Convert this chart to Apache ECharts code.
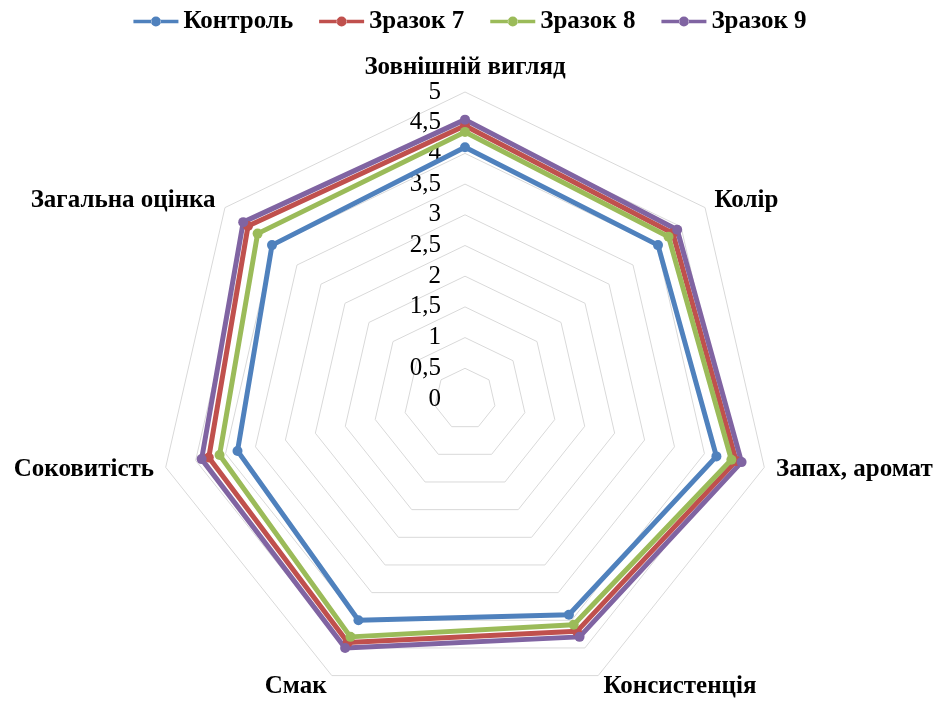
<!DOCTYPE html>
<html>
<head>
<meta charset="utf-8">
<script src="https://cdn.jsdelivr.net/npm/echarts@6/dist/echarts.min.js"></script>
<style>
  html, body { margin: 0; padding: 0; background: #fff; }
  #main { width: 940px; height: 702px; }
</style>
</head>
<body>
<div id="main"></div>
<script>
// показники (осі радара), за годинниковою стрілкою від верху
var indicators = ['Зовнішній вигляд', 'Колір', 'Запах, аромат', 'Консистенція', 'Смак', 'Соковитість', 'Загальна оцінка'];
var seriesNames = ['Контроль', 'Зразок 7', 'Зразок 8', 'Зразок 9'];

// оцінки
var control = [4.1, 4.02, 4.2, 3.9, 4.0, 3.8, 4.02];
var sample7 = [4.45, 4.33, 4.53, 4.2, 4.4, 4.28, 4.52];
var sample8 = [4.35, 4.24, 4.45, 4.08, 4.3, 4.1, 4.32];
var sample9 = [4.55, 4.42, 4.62, 4.3, 4.5, 4.4, 4.62];

var colors = ['#4F81BD', '#C0504D', '#9BBB59', '#8064A2'];
var allValues = [control, sample7, sample8, sample9];

// echarts кладе осі проти годинникової стрілки, тож перший лишаємо, решту перевертаємо
function clockwise(arr) {
  return [arr[0]].concat(arr.slice(1).reverse());
}

// значок легенди: лінія з маркером
var legendIcon = 'path://M0,3.3 H18 V6.7 H0 Z M27,3.3 H45 V6.7 H27 Z M17.5,5 A5,5 0 1,0 27.5,5 A5,5 0 1,0 17.5,5 Z';

var myChart = echarts.init(document.getElementById('main'));

var serifBold = {
  fontFamily: 'Liberation Serif',
  fontWeight: 'bold',
  fontSize: 25,
  color: '#000'
};

var option = {
  color: colors,
  legend: {
    top: 4,
    left: 'center',
    itemWidth: 45,
    itemHeight: 10,
    itemGap: 26,
    data: seriesNames.map(function (n) { return { name: n, icon: legendIcon }; }),
    textStyle: serifBold
  },
  radar: {
    center: [465, 399],
    radius: 307,
    startAngle: 90,
    shape: 'polygon',
    splitNumber: 10,
    nameGap: 12,
    axisName: serifBold,
    indicator: clockwise(indicators).map(function (n, i) {
      return {
        name: n,
        min: 0,
        max: 5,
        axisLabel: i === 0 ? {
          show: true,
          showMinLabel: true,
          showMaxLabel: true,
          margin: 24,
          fontFamily: 'Liberation Serif',
          fontSize: 25,
          color: '#000',
          formatter: function (v) { return String(v).replace('.', ','); }
        } : { show: false }
      };
    }),
    axisLine: { show: false },
    axisTick: { show: false },
    splitLine: { lineStyle: { color: '#D9D9D9', width: 1 } },
    splitArea: { show: false }
  },
  series: seriesNames.map(function (n, k) {
    return {
      name: n,
      type: 'radar',
      symbol: 'circle',
      symbolSize: 10,
      lineStyle: { width: 5, color: colors[k] },
      itemStyle: { color: colors[k] },
      data: [{ value: clockwise(allValues[k]), name: n }]
    };
  })
};

myChart.setOption(option);
</script>
</body>
</html>
